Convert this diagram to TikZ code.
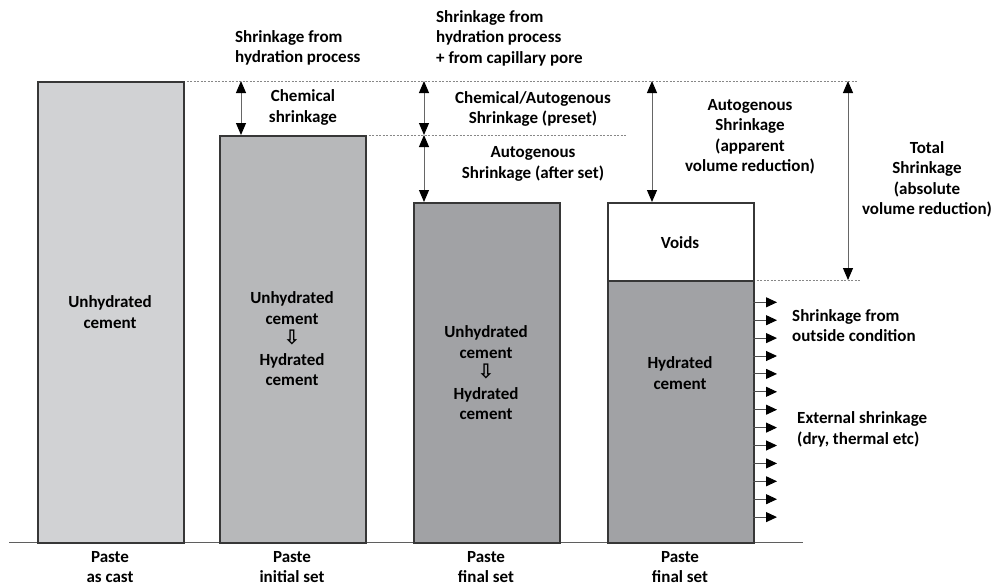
\documentclass[tikz,border=0pt]{standalone}
\usepackage{fontspec}
\setmainfont{Carlito}
\newfontfamily\arrowfont{DejaVu Sans}
\usetikzlibrary{arrows.meta}

\definecolor{castgray}{RGB}{209,210,212}
\definecolor{initgray}{RGB}{183,184,186}
\definecolor{finalgray}{RGB}{161,162,165}
\definecolor{edgegray}{RGB}{55,55,55}
\definecolor{guidegray}{RGB}{135,135,135}

\newcommand{\turnsinto}{{\arrowfont\fontsize{20}{20.5}\selectfont ⇩}}

\begin{document}
\begin{tikzpicture}[x=1pt,y=-1pt,
  bar/.style={draw=edgegray,line width=1.5pt,minimum width=146pt,anchor=north west,inner sep=0pt},
  lbl/.style={font=\bfseries\fontsize{17}{20.5}\selectfont,align=center,inner sep=0pt},
  guide/.style={guidegray,line width=0.8pt,dash pattern=on 2pt off 1.5pt},
  dimarrow/.style={{Triangle[length=12pt,width=10pt,color=black]}-{Triangle[length=12pt,width=10pt,color=black]},draw=gray!80!black,line width=1pt},
  pusharrow/.style={-{Triangle[length=11pt,width=10pt,color=black]},draw=gray!60!black,line width=1pt}]
\useasboundingbox (0,0) rectangle (998,587);

% Ground line and guide levels
\coordinate (g0) at (9,542);
\coordinate (g1) at (803,542);
\draw[edgegray!80,line width=1pt] (g0) -- (g1);
\coordinate (lv0a) at (183,81);   \coordinate (lv0b) at (858,81);
\coordinate (lv1a) at (365,135);  \coordinate (lv1b) at (627,135);
\coordinate (lv2a) at (753,280);  \coordinate (lv2b) at (860,280);
\draw[guide] (lv0a) -- (lv0b);
\draw[guide] (lv1a) -- (lv1b);
\draw[guide] (lv2a) -- (lv2b);

% Bars
\node[bar,fill=castgray,minimum height=461pt] (cast) at (37,81) {};
\node[bar,fill=initgray,minimum height=407pt] (initial) at (219,135) {};
\node[bar,fill=finalgray,minimum height=340pt] (final) at (413,202) {};
\node[bar,fill=white,minimum height=78pt] (voids) at (607,202) {};
\node[bar,fill=finalgray,minimum height=262pt] (hydrated) at (607,280) {};

% Bar texts
\node[lbl] (castTxt) at (110,312) {Unhydrated\\cement};
\node[lbl] (initTxt) at (292,339) {Unhydrated\\cement\\\turnsinto\\Hydrated\\cement};
\node[lbl] (finalTxt) at (486,373) {Unhydrated\\cement\\\turnsinto\\Hydrated\\cement};
\node[lbl] (voidsTxt) at (680,243) {Voids};
\node[lbl] (hydTxt) at (680,373) {Hydrated\\cement};

% Bottom captions
\node[lbl] (capA) at (110,567) {Paste\\as cast};
\node[lbl] (capB) at (292,567) {Paste\\initial set};
\node[lbl] (capC) at (486,567) {Paste\\final set};
\node[lbl] (capD) at (680,567) {Paste\\final set};

% Dimension arrows
\coordinate (c0) at (241,81);  \coordinate (c1) at (241,135);
\draw[dimarrow] (c0) -- (c1);
\coordinate (p0) at (424,81);  \coordinate (p1) at (424,135);  \coordinate (p2) at (424,202);
\draw[dimarrow] (p0) -- (p1);
\draw[dimarrow] (p1) -- (p2);
\coordinate (a0) at (652,81);  \coordinate (a1) at (652,202);
\draw[dimarrow] (a0) -- (a1);
\coordinate (t0) at (848,81);  \coordinate (t1) at (848,280);
\draw[dimarrow] (t0) -- (t1);

% Shrinkage labels
\node[lbl,align=left,anchor=west] (hydProc) at (235,48) {Shrinkage from\\hydration process};
\node[lbl,align=left,anchor=west] (capProc) at (436,38) {Shrinkage from\\hydration process\\+ from capillary pore};
\node[lbl] (chemTxt) at (303,107.5) {Chemical\\shrinkage};
\node[lbl] (presetTxt) at (533,109) {Chemical/Autogenous\\Shrinkage (preset)};
\node[lbl] (afterTxt) at (533,164) {Autogenous\\Shrinkage (after set)};
\node[lbl] (apparentTxt) at (750,137) {Autogenous\\Shrinkage\\(apparent\\volume reduction)};
\node[lbl] (totalTxt) at (927,179.5) {Total\\Shrinkage\\(absolute\\volume reduction)};

% External shrinkage arrows
\foreach \i in {0,...,12} {
    \coordinate (s\i) at (753,302.3+17.9*\i);
    \coordinate (e\i) at (777,302.3+17.9*\i);
    \draw[pusharrow] (s\i) -- (e\i);
}
\node[lbl,align=left,anchor=west] (outsideTxt) at (792,325.5) {Shrinkage from\\outside condition};
\node[lbl,align=left,anchor=west] (externalTxt) at (797,429.5) {External shrinkage\\(dry, thermal etc)};
\end{tikzpicture}
\end{document}
